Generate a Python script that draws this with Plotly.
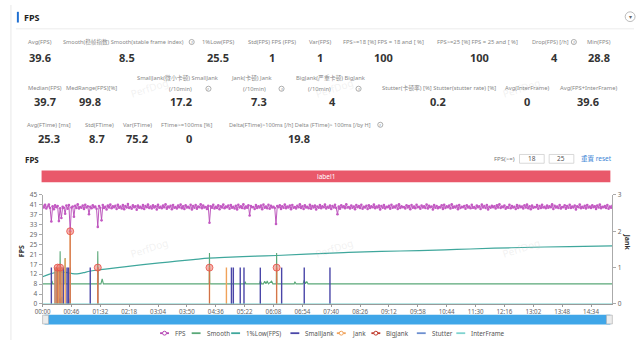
import plotly.graph_objects as go

W, H = 640, 344

# ---------------- data ----------------
row1_labels = ["Avg(FPS)", "Smooth(稳帧指数) Smooth(stable frame index)", "1%Low(FPS)",
               "Std(FPS) FPS (FPS)", "Var(FPS)", "FPS>=18 [%] FPS = 18 and [ %]",
               "FPS>=25 [%] FPS = 25 and [ %]", "Drop(FPS) [/h]", "Min(FPS)"]
row1_values = ["39.6", "8.5", "25.5", "1", "1", "100", "100", "4", "28.8"]

row2_labels = ["Median(FPS)", "MedRange(FPS)[%]", "SmallJank(微小卡顿) SmallJank<br>(/10min)",
               "Jank(卡顿) Jank<br>(/10min)", "BigJank(严重卡顿) BigJank<br>(/10min)",
               "Stutter(卡顿率) [%] Stutter(stutter rate) [%]", "Avg(InterFrame)", "Avg(FPS+InterFrame)"]
row2_values = ["39.7", "99.8", "17.2", "7.3", "4", "0.2", "0", "39.6"]

row3_labels = ["Avg(FTime) [ms]", "Std(FTime)", "Var(FTime)", "FTime>=100ms [%]",
               "Delta(FTime)>100ms [/h] Delta (FTime)> 100ms [/by H]"]
row3_values = ["25.3", "8.7", "75.2", "0", "19.8"]

x_tick_seconds = [0, 46, 92, 138, 184, 230, 276, 322, 368, 414, 460, 506, 552, 598,
                  644, 690, 736, 782, 828, 874]
x_tick_labels = ["00:00", "00:46", "01:32", "02:18", "03:04", "03:50", "04:36", "05:22",
                 "06:08", "06:54", "07:40", "08:26", "09:12", "09:58", "10:44", "11:30",
                 "12:16", "13:02", "13:48", "14:34"]
fps_tick_labels = ["0", "4", "8", "12", "17", "21", "25", "29", "33", "37", "41", "45"]
jank_tick_labels = ["0", "1", "2", "3"]

series_names = ["FPS", "Smooth", "1%Low(FPS)", "SmallJank", "Jank", "BigJank", "Stutter", "InterFrame"]

fps_step = 2  # seconds between samples
fps_values = [
    40.5, 39.8, 40.9, 39.4, 40.2, 41.0, 39.6, 34.0, 40.3, 39.1, 40.7, 39.9, 40.4, 34.2, 39.5, 35.5, 40.1, 39.7, 37.2, 40.6,
    39.3, 40.8, 30.0, 39.8, 40.2, 36.0, 40.5, 39.6, 41.1, 39.4, 40.0, 39.7, 40.6, 39.2, 40.9, 39.8, 40.3, 37.0, 40.1, 39.5,
    40.7, 39.9, 40.2, 39.3, 31.8, 40.4, 39.7, 34.5, 40.8, 39.6, 40.1, 39.0, 40.6, 39.8, 41.0, 39.5, 40.3, 39.9, 40.5, 39.2,
    40.9, 39.7, 40.2, 39.4, 40.8, 39.1, 40.4, 39.8, 41.2, 39.6, 40.0, 39.3, 40.7, 39.9, 40.3, 38.9, 40.6, 39.7, 40.1, 39.5,
    40.8, 39.2, 40.4, 39.9, 41.0, 39.6, 40.2, 39.4, 40.7, 39.8, 40.3, 39.0, 40.9, 39.7, 40.1, 39.5, 40.6, 39.9, 41.1, 39.3,
    40.2, 39.8, 40.5, 39.1, 40.8, 39.7, 40.0, 39.4, 40.6, 39.9, 41.0, 39.5, 40.3, 39.2, 40.7, 39.8, 40.1, 39.6, 40.9, 39.0,
    40.4, 39.7, 40.8, 39.3, 40.2, 39.9, 41.1, 39.5, 40.6, 39.8, 40.0, 39.2, 40.5, 33.5, 40.3, 39.7, 40.9, 39.4, 40.1, 39.6,
    40.7, 39.1, 40.3, 39.8, 41.0, 39.5, 40.2, 39.9, 40.6, 39.3, 40.8, 39.7, 40.1, 39.4, 40.5, 39.0, 40.9, 39.8, 40.3, 39.6,
    41.1, 39.4, 40.2, 39.7, 40.7, 36.5, 40.4, 39.9, 40.0, 39.2, 40.8, 39.6, 40.3, 39.8, 40.6, 39.1, 41.0, 39.7, 40.2, 39.5,
    40.9, 39.3, 40.5, 39.8, 40.1, 39.6, 33.0, 40.4, 39.9, 40.7, 39.2, 40.3, 39.7, 41.0, 39.5, 40.2, 39.8, 40.6, 39.1, 40.8,
    39.7, 40.0, 39.4, 40.5, 39.9, 41.1, 39.6, 40.3, 39.2, 40.7, 39.8, 40.1, 39.5, 40.9, 39.3, 40.4, 39.8, 40.6, 39.0, 40.2,
    39.7, 40.8, 39.5, 40.3, 39.9, 41.0, 39.4, 40.1, 39.7, 40.6, 39.2, 40.4, 39.8, 40.9, 39.6, 37.0, 40.2, 39.3, 40.7, 39.9,
    40.3, 39.5, 41.1, 39.8, 40.0, 39.4, 40.6, 39.7, 40.2, 39.1, 40.8, 39.9, 40.4, 39.6, 40.9, 39.3, 40.1, 39.8, 40.5, 39.2,
    40.7, 39.6, 40.3, 39.9, 41.0, 39.5, 40.2, 39.8, 40.6, 39.0, 40.4, 39.7, 40.8, 39.4, 40.1, 39.9, 40.5, 39.3, 40.9, 39.7,
    40.2, 39.8, 40.6, 39.2, 41.1, 39.6, 40.3, 39.9, 40.0, 39.4, 40.7, 39.8, 40.4, 39.1, 40.8, 39.7, 40.2, 39.5, 40.9, 39.9,
    40.1, 39.3, 40.6, 39.8, 40.3, 39.6, 41.0, 39.4, 40.5, 39.9, 40.2, 39.0, 40.8, 39.7, 40.4, 39.5, 40.0, 39.8, 40.7, 39.2,
    40.9, 39.6, 40.3, 39.9, 40.6, 39.4, 41.1, 39.7, 40.2, 39.8, 40.5, 39.1, 40.8, 39.6, 40.1, 39.9, 40.4, 39.3, 40.7, 39.8,
    40.2, 39.5, 40.9, 39.7, 40.0, 39.4, 40.6, 39.9, 40.3, 39.2, 41.0, 39.8, 40.4, 39.6, 40.8, 39.0, 40.1, 39.7, 40.5, 39.9,
    40.3, 39.4, 40.7, 39.8, 41.1, 39.6, 40.2, 39.9, 40.6, 39.3, 40.0, 39.7, 40.9, 39.5, 40.4, 39.8, 40.1, 39.2, 40.8, 39.6,
    40.5, 39.9, 40.2, 39.4, 40.7, 39.8, 41.0, 39.5, 40.3, 39.1, 40.6, 39.7, 40.0, 39.9, 40.8, 39.3, 40.4, 39.6, 40.9, 39.8,
    40.1, 39.5, 40.6, 39.7, 40.3, 39.9, 41.1, 39.2, 40.5, 39.8, 40.2, 39.6, 40.8, 39.4, 40.0, 39.9, 40.7, 39.3, 40.4, 39.7,
    40.9, 39.6, 40.2, 39.8, 40.6, 39.0, 40.3, 39.9, 41.0, 39.5, 40.1, 39.7, 40.5, 39.4, 40.8, 39.8, 40.2, 39.6, 40.7, 39.9,
    40.3, 39.2, 40.6, 39.8, 41.0, 39.5, 40.1, 39.9, 40.4, 39.6, 40.8, 39.3, 40.2, 39.7, 40.5,
]
fps_times = [i * fps_step for i in range(len(fps_values))]

smooth_t = [0, 14, 15, 16, 27.5, 28, 28.5, 35.5, 36, 36.5, 87.5, 88, 88.5, 93, 95, 97,
            265.5, 266, 266.5, 322, 323, 324, 346, 347, 349, 352, 354, 356, 358, 360,
            365, 367, 372.5, 373, 373.5, 401, 402, 404, 415, 417, 419, 421, 423, 908]
smooth_v = [8.3, 8.3, 9.5, 8.3, 8.3, 21.7, 8.3, 8.3, 19.0, 8.3, 8.3, 21.7, 8.3, 8.3, 10.3, 8.3,
            8.3, 21.0, 8.3, 8.3, 9.2, 8.3, 8.3, 9.6, 8.3, 8.3, 9.4, 8.3, 9.5, 8.3,
            9.4, 8.3, 8.3, 21.0, 8.3, 8.3, 9.2, 8.3, 8.3, 9.8, 8.3, 9.3, 8.3, 8.3]

low1_t = [0, 10, 20, 30, 40, 46, 55, 65, 75, 88, 100, 130, 160, 200, 240, 265, 300, 340,
          373, 420, 480, 540, 600, 660, 720, 780, 840, 908]
low1_v = [11.2, 12.2, 12.9, 13.1, 12.9, 12.6, 12.4, 12.9, 13.5, 14.0, 14.4, 15.3, 16.2,
          17.3, 18.3, 18.9, 19.3, 19.7, 20.0, 20.6, 21.2, 21.7, 22.0, 22.5, 23.0, 23.4,
          23.7, 24.0]

smalljank_t = [14, 20, 22, 26, 31, 33, 39, 41, 44, 76, 88, 301, 304, 315, 321, 347, 381, 417, 458]
smalljank_v = [1, 1, 1, 1, 1, 1, 1, 1, 1, 1, 1, 1, 1, 1, 1, 1, 1, 1, 1]
jank_t = [20, 23, 25, 28, 31, 36, 44, 88, 266, 293, 373]
jank_v = [1, 1, 1, 1, 1, 1.25, 2, 1, 1, 1, 1]
bigjank_t = [24, 28, 44, 88, 266, 373]
bigjank_v = [1, 1, 2, 1, 1, 1]
stutter_t = [22, 25, 28, 31, 44]
stutter_v = [0.15, 0.2, 0.15, 0.2, 0.15]
interframe_t = [0, 908]
interframe_v = [0, 0]

# ---------------- style ----------------
FONT = "Noto Sans, Noto Sans CJK SC, sans-serif"
colors = {"FPS": "#b547b5", "Smooth": "#5aa878", "1%Low(FPS)": "#3fa79c",
          "SmallJank": "#4a46a8", "Jank": "#f0a25a", "BigJank": "#c0392b",
          "Stutter": "#6d8fd0", "InterFrame": "#7fd3d0"}


def X(px):
    return px / W


def Y(py):
    return 1 - py / H


def spikes(ts, vs):
    xs, ys = [], []
    for t, v in zip(ts, vs):
        xs += [t, t, None]
        ys += [0, v, None]
    return xs, ys


fig = go.Figure()

fig.add_trace(go.Scatter(x=low1_t, y=low1_v, mode="lines", name="1%Low(FPS)",
                         line=dict(color=colors["1%Low(FPS)"], width=1.2, shape="spline"),
                         showlegend=False))
fig.add_trace(go.Scatter(x=smooth_t, y=smooth_v, mode="lines", name="Smooth",
                         line=dict(color=colors["Smooth"], width=1.1), showlegend=False))
fig.add_trace(go.Scatter(x=fps_times, y=fps_values, mode="lines+markers", name="FPS",
                         line=dict(color=colors["FPS"], width=0.9),
                         marker=dict(size=2.6, color="#c35ac3"), showlegend=False))

sx, sy = spikes(stutter_t, stutter_v)
fig.add_trace(go.Scatter(x=sx, y=sy, yaxis="y2", mode="lines", name="Stutter",
                         line=dict(color=colors["Stutter"], width=1.6), showlegend=False))
sx, sy = spikes(smalljank_t, smalljank_v)
fig.add_trace(go.Scatter(x=sx, y=sy, yaxis="y2", mode="lines", name="SmallJank",
                         line=dict(color=colors["SmallJank"], width=1.4), showlegend=False))
sx, sy = spikes(jank_t, jank_v)
fig.add_trace(go.Scatter(x=sx, y=sy, yaxis="y2", mode="lines", name="Jank",
                         line=dict(color=colors["Jank"], width=1.4), showlegend=False))
sx, sy = spikes(bigjank_t, bigjank_v)
fig.add_trace(go.Scatter(x=sx, y=sy, yaxis="y2", mode="lines", name="BigJank",
                         line=dict(color="#d0704a", width=1.0), showlegend=False))
fig.add_trace(go.Scatter(x=bigjank_t, y=bigjank_v, yaxis="y2", mode="markers", name="BigJank",
                         marker=dict(size=7, color="rgba(240,110,100,0.5)",
                                     line=dict(color="rgba(230,80,70,0.8)", width=1)),
                         showlegend=False))
fig.add_trace(go.Scatter(x=interframe_t, y=interframe_v, yaxis="y2", mode="lines",
                         name="InterFrame", line=dict(color=colors["InterFrame"], width=1),
                         showlegend=False))

shapes = []
ann = []


def text(x, y, s, size=5.8, color="#888", bold=False, anchor="center", angle=0, va="middle"):
    ann.append(dict(x=X(x), y=Y(y), xref="paper", yref="paper", text=("<b>%s</b>" % s) if bold else s,
                    showarrow=False, xanchor=anchor, yanchor=va, textangle=angle,
                    font=dict(size=size, color=color, family=FONT)))


def rect(x0, y0, x1, y1, fill=None, line=None, lw=1, layer="above"):
    shapes.append(dict(type="rect", xref="paper", yref="paper", x0=X(x0), x1=X(x1), y0=Y(y1), y1=Y(y0),
                       fillcolor=fill if fill else "rgba(0,0,0,0)", layer=layer,
                       line=dict(color=line if line else "rgba(0,0,0,0)", width=lw if line else 0)))


def hline(x0, x1, y, color, w=1):
    shapes.append(dict(type="line", xref="paper", yref="paper", x0=X(x0), x1=X(x1), y0=Y(y), y1=Y(y),
                       line=dict(color=color, width=w)))


def qicon(x, y):
    shapes.append(dict(type="circle", xref="paper", yref="paper", x0=X(x - 2.6), x1=X(x + 2.6),
                       y0=Y(y + 2.6), y1=Y(y - 2.6), line=dict(color="#999", width=0.8)))
    text(x, y, "?", size=4.3, color="#888")


# page chrome
shapes.append(dict(type="line", xref="paper", yref="paper", x0=X(3), x1=X(3), y0=0, y1=1,
                   line=dict(color="#e8e8e8", width=1)))
rect(9, 7, 11, 18, fill="#1f6fd1")
text(14, 13, "FPS", size=9, color="#222", bold=True, anchor="left")
hline(8, 634, 24.5, "#ececec")
shapes.append(dict(type="circle", xref="paper", yref="paper", x0=X(625), x1=X(635), y0=Y(17), y1=Y(7),
                   line=dict(color="#aaa", width=0.8)))
text(630, 12.5, "▾", size=6, color="#666")

# watermark
for wx, wy in [(143, 85), (331, 85), (520, 85), (143, 250), (331, 250), (520, 250)]:
    text(wx, wy, "PerfDog", size=10, color="rgba(200,200,200,0.25)", angle=-18)

# stats rows
r1_lx = [32, 54, 213, 267, 316, 380, 475, 529, 598]
r1_anchor = ["center", "left", "center", "center", "center", "center", "center", "left", "center"]
r1_vx = [32, 121, 213, 267, 316, 380, 477, 553, 598]
for s, lx, an in zip(row1_labels, r1_lx, r1_anchor):
    text(lx, 38, s, anchor=an, size=5.6 if an == "left" else 5.8)
for v, vx in zip(row1_values, r1_vx):
    text(vx, 54, v, size=11, color="#333", bold=True)
qicon(186, 38)
qicon(573, 38)

r2_lx = [37, 85, 172, 247, 327, 436, 526, 588]
r2_vx = [37, 83, 175, 254, 329, 435, 526, 587]
for s, lx in zip(row2_labels, r2_lx):
    if "<br>" in s:
        a, b = s.split("<br>")
        text(lx, 75, a)
        text(lx + (3 if lx < 300 else -12), 86, b)
    else:
        text(lx, 85, s)
for v, vx in zip(row2_values, r2_vx):
    text(vx, 99, v, size=11, color="#333", bold=True)
qicon(203, 86)
qicon(277, 86)
qicon(355, 86)

r3_lx = [42, 93, 131, 181, 222]
r3_anchor = ["center", "center", "center", "center", "left"]
r3_vx = [42, 90, 131, 183, 295]
for s, lx, an in zip(row3_labels, r3_lx, r3_anchor):
    text(lx, 123, s, anchor=an, size=5.6 if an == "left" else 5.8)
for v, vx in zip(row3_values, r3_vx):
    text(vx, 137, v, size=11, color="#333", bold=True)
qicon(377, 123)

# chart header
text(15, 159, "FPS", size=8, color="#222", bold=True, anchor="left")
text(515, 158, "FPS(>=)", size=6, color="#777", anchor="right")
rect(518, 153.5, 543, 162.5, line="#cfcfcf", lw=0.8)
rect(548, 153.5, 573, 162.5, line="#cfcfcf", lw=0.8)
text(530.5, 158, "18", size=6.5, color="#555")
text(560.5, 158, "25", size=6.5, color="#555")
text(578, 158, "重置 reset", size=6.5, color="#3d86d6", anchor="left")
rect(34, 170, 610, 182, fill="#e9586a")
text(322, 176, "label1", size=6.5, color="#ffffff")

# axis titles
text(14, 253, "FPS", size=7, color="#333", bold=True, angle=-90)
text(627, 243, "Jank", size=7, color="#333", bold=True, angle=90)

# slider
rect(37, 318, 610, 328, fill="#3fa6e8", layer="below")
rect(35, 318.5, 41, 327.5, fill="#ececec", line="#aaa", lw=0.6, layer="below")
rect(606, 318.5, 612, 327.5, fill="#ececec", line="#aaa", lw=0.6, layer="below")

# legend
leg_x = [154, 186, 226, 286, 333, 368, 414, 454]
leg_marker = {"FPS", "BigJank", "Jank"}
for name, lx in zip(series_names, leg_x):
    c = colors[name]
    hline(lx, lx + 9, 337, c, 1.8)
    if name in leg_marker:
        shapes.append(dict(type="circle", xref="paper", yref="paper", x0=X(lx + 2.5), x1=X(lx + 6.5),
                           y0=Y(339), y1=Y(335), fillcolor="white", line=dict(color=c, width=1)))
    text(lx + 13, 337, name, size=6.3, color="#555", anchor="left")

fps_tickvals = [i * 45 / 11 for i in range(len(fps_tick_labels))]

fig.update_layout(
    width=W, height=H,
    margin=dict(l=0, r=0, t=0, b=0),
    paper_bgcolor="white", plot_bgcolor="white",
    showlegend=False,
    font=dict(family=FONT, size=7, color="#555"),
    xaxis=dict(domain=[X(35), X(612)], range=[0, 908], tickvals=x_tick_seconds,
               ticktext=x_tick_labels, showgrid=False, zeroline=False, showline=True,
               linecolor="#999", linewidth=1, ticks="outside", ticklen=2, tickcolor="#999",
               tickfont=dict(size=6.2, color="#666"), anchor="y"),
    yaxis=dict(domain=[Y(307), Y(195)], range=[0, 45], tickvals=fps_tickvals,
               ticktext=fps_tick_labels, showgrid=False, zeroline=False, showline=True,
               linecolor="#aaa", ticks="outside", ticklen=3, tickcolor="#aaa",
               tickfont=dict(size=6.5, color="#666")),
    yaxis2=dict(overlaying="y", side="right", range=[0, 3], tickvals=[0, 1, 2, 3],
                ticktext=jank_tick_labels, showgrid=False, zeroline=False, showline=True,
                linecolor="#aaa", ticks="outside", ticklen=3, tickcolor="#aaa",
                tickfont=dict(size=6.5, color="#666"), anchor="x"),
    shapes=shapes,
    annotations=ann,
)

fig.write_html("out.html")
